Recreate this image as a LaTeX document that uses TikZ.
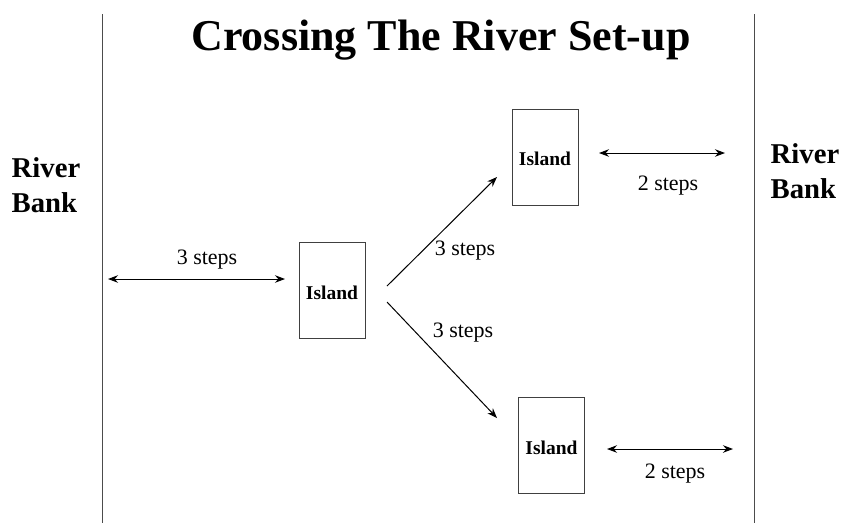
\documentclass[tikz,border=0pt]{standalone}
\usepackage{fontspec}
\setmainfont{Liberation Serif}
\usetikzlibrary{arrows.meta}
\begin{document}
\begin{tikzpicture}[x=1pt,y=-1pt,
  island/.style={draw=black!75,line width=0.8pt,minimum width=66pt,minimum height=96pt,inner sep=0pt,font=\bfseries\fontsize{19.5}{22}\selectfont},
  islandtext/.style={font=\bfseries\fontsize{19.5}{22}\selectfont,inner sep=0pt},
  bank/.style={font=\bfseries\fontsize{28.7}{35}\selectfont,align=left,inner sep=0pt},
  lbl/.style={font=\fontsize{22}{24}\selectfont,inner sep=0pt},
  conn/.style={line width=1pt,-{Stealth[length=10pt,width=7.5pt]}},
  dconn/.style={line width=1pt,{Stealth[length=10pt,width=7.5pt]}-{Stealth[length=10pt,width=7.5pt]}},
  riverline/.style={draw=black!70,line width=0.9pt}]
\useasboundingbox (0,0) rectangle (843,523);
\fill[white] (0,0) rectangle (843,523);
% river lines
\coordinate (lt) at (102,14); \coordinate (lb) at (102,523);
\coordinate (rt) at (754,14); \coordinate (rb) at (754,523);
\draw[riverline] (lt) -- (lb);
\draw[riverline] (rt) -- (rb);
% title
\node[font=\bfseries\fontsize{44}{50}\selectfont,inner sep=0pt] (title) at (441,40) {Crossing The River Set-up};
% banks
\node[bank] (lbank) at (46,185) {River\\Bank};
\node[bank] (rbank) at (805,171) {River\\Bank};
% islands
\node[island] (i1) at (332,290) {};
\node[island] (i2) at (545,157) {};
\node[island] (i3) at (551.5,445) {};
\node[islandtext] (t1txt) at ([yshift=-2.5pt]i1.center) {Island};
\node[islandtext] (t2txt) at ([yshift=-2pt]i2.center) {Island};
\node[islandtext] (t3txt) at ([yshift=-2.5pt]i3.center) {Island};
% arrow endpoints
\coordinate (a1) at (108,279); \coordinate (a2) at (285,279);
\coordinate (u1) at (387,286); \coordinate (u2) at (497,177);
\coordinate (d1) at (387,302); \coordinate (d2) at (497,418);
\coordinate (t1) at (599,153); \coordinate (t2) at (725,153);
\coordinate (b1) at (607,449); \coordinate (b2) at (733,449);
\draw[dconn] (a1) -- (a2);
\draw[conn] (u1) -- (u2);
\draw[conn] (d1) -- (d2);
\draw[dconn] (t1) -- (t2);
\draw[dconn] (b1) -- (b2);
% labels
\node[lbl] (l1) at (207,259.5) {3 steps};
\node[lbl] (l2) at (465,250.5) {3 steps};
\node[lbl] (l3) at (463,332.5) {3 steps};
\node[lbl] (l4) at (668,185.5) {2 steps};
\node[lbl] (l5) at (675,473.5) {2 steps};
\end{tikzpicture}
\end{document}
